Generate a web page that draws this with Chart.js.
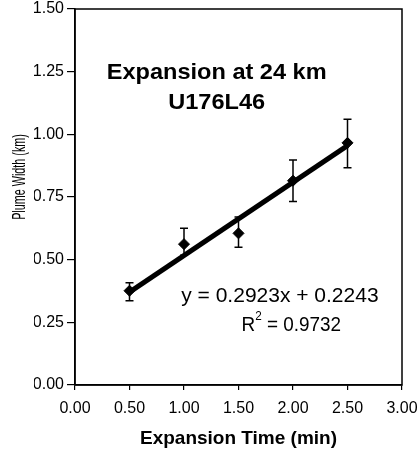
<!DOCTYPE html>
<html>
<head>
<meta charset="utf-8">
<script src="https://cdn.jsdelivr.net/npm/chart.js@4"></script>
<style>
  body { margin: 0; background: #fff; }
  #wrap { width: 418px; height: 450px; }
</style>
</head>
<body>
<div id="wrap"><canvas id="plumeChart"></canvas></div>
<script>
// Expansion time (min) and plume width (km)
const times = [0.5, 1.0, 1.5, 2.0, 2.5];
const widths = [0.376, 0.562, 0.605, 0.815, 0.966];
const errLow = [0.336, 0.518, 0.55, 0.732, 0.867];
const errHigh = [0.408, 0.625, 0.67, 0.898, 1.06];

// Linear fit printed on the chart
const slope = 0.2923;
const intercept = 0.2243;
const rSquared = 0.9732;

const yTicks = [0, 0.25, 0.5, 0.75, 1.0, 1.25, 1.5];

const SANS = '"Liberation Sans", Arial, Helvetica, sans-serif';

// text helper: centred, optionally stretched/squeezed horizontally
function putText(ctx, str, px, py, font, sx) {
    ctx.save();
    ctx.font = font;
    ctx.translate(px, py);
    ctx.scale(sx, 1);
    ctx.fillText(str, 0, 0);
    ctx.restore();
}

// "R² = value" with a small raised 2
function putRSquared(ctx, value, px, py, sx) {
    const big = '21px ' + SANS, small = '13px ' + SANS;
    const rest = ' = ' + value;
    ctx.save();
    ctx.font = big;
    const wR = ctx.measureText('R').width, wRest = ctx.measureText(rest).width;
    ctx.font = small;
    const w2 = ctx.measureText('2').width;
    ctx.translate(px, py);
    ctx.scale(sx, 1);
    ctx.textAlign = 'left';
    let cx = -(wR + w2 + wRest) / 2;
    ctx.font = big;
    ctx.fillText('R', cx, 0);
    cx += wR;
    ctx.font = small;
    ctx.fillText('2', cx, -9);
    cx += w2;
    ctx.font = big;
    ctx.fillText(rest, cx, 0);
    ctx.restore();
}

// Error bars, frame, titles and equation text
const extras = {
    id: 'extras',
    afterDatasetsDraw(chart) {
        const { ctx, chartArea, scales } = chart;
        const x = scales.x, y = scales.y;
        ctx.save();
        ctx.strokeStyle = '#000';
        ctx.lineWidth = 1.5;
        // error bars with caps
        times.forEach((t, i) => {
            const px = x.getPixelForValue(t);
            const top = y.getPixelForValue(errHigh[i]);
            const bot = y.getPixelForValue(errLow[i]);
            ctx.beginPath();
            ctx.moveTo(px, top); ctx.lineTo(px, bot);
            ctx.moveTo(px - 4, top); ctx.lineTo(px + 4, top);
            ctx.moveTo(px - 4, bot); ctx.lineTo(px + 4, bot);
            ctx.stroke();
        });
        // box around the plot
        ctx.strokeRect(chartArea.left, chartArea.top, chartArea.right - chartArea.left, chartArea.bottom - chartArea.top);

        ctx.fillStyle = '#000';
        ctx.textAlign = 'center';
        ctx.textBaseline = 'middle';
        // chart title inside the plot
        const bold = 'bold 22px ' + SANS;
        putText(ctx, 'Expansion at 24 km', x.getPixelForValue(1.3), y.getPixelForValue(1.245), bold, 1.07);
        putText(ctx, 'U176L46', x.getPixelForValue(1.3), y.getPixelForValue(1.125), bold, 1.07);
        // regression text
        putText(ctx, 'y = ' + slope.toFixed(4) + 'x + ' + intercept.toFixed(4),
            x.getPixelForValue(1.88), y.getPixelForValue(0.356), '21px ' + SANS, 1);
        putRSquared(ctx, rSquared.toFixed(4), x.getPixelForValue(1.985), y.getPixelForValue(0.237), 0.9);
        // y axis title, narrowed to look like the condensed original
        ctx.translate(20, y.getPixelForValue(0.83));
        ctx.rotate(-Math.PI / 2);
        putText(ctx, 'Plume Width (km)', 0, 0, '18px ' + SANS, 0.6);
        ctx.restore();
    }
};

const ctx = document.getElementById('plumeChart').getContext('2d');
const plumeChart = new Chart(ctx, {
    type: 'scatter',
    data: {
        datasets: [{
            // trend line from the printed fit
            type: 'line',
            data: [times[0], times[times.length - 1]].map(t => ({ x: t, y: slope * t + intercept })),
            borderColor: '#000',
            borderWidth: 5,
            pointRadius: 0,
            fill: false
        }, {
            data: times.map((t, i) => ({ x: t, y: widths[i] })),
            pointStyle: 'rectRot',
            pointRadius: 5.5,
            backgroundColor: '#000',
            borderColor: '#000'
        }]
    },
    options: {
        responsive: true,
        maintainAspectRatio: false,
        animation: false,
        layout: { padding: { left: 34, right: 16, top: 9, bottom: 0 } },
        plugins: {
            legend: { display: false },
            tooltip: { enabled: false }
        },
        scales: {
            x: {
                type: 'linear',
                min: 0,
                max: 3,
                afterFit: s => { s.height = 65; s.paddingLeft = 0; s.paddingRight = 0; },
                ticks: {
                    stepSize: 0.5,
                    padding: 9,
                    color: '#000',
                    font: { family: SANS, size: 16 },
                    callback: v => v.toFixed(2)
                },
                grid: { drawOnChartArea: false, tickLength: 5, color: '#000', lineWidth: 1.2 },
                border: { color: '#000', width: 1.5 },
                title: {
                    display: true,
                    text: 'Expansion Time (min)',
                    color: '#000',
                    font: { family: SANS, size: 19, weight: 'bold' },
                    padding: { top: 4, bottom: 0 }
                }
            },
            y: {
                min: 0,
                max: 1.5,
                afterBuildTicks: axis => { axis.ticks = yTicks.map(v => ({ value: v })); },
                afterFit: s => { s.width = 41; s.paddingTop = 0; s.paddingBottom = 0; },
                ticks: {
                    padding: 3,
                    color: '#000',
                    font: { family: SANS, size: 16 },
                    callback: v => v.toFixed(2)
                },
                grid: { drawOnChartArea: false, tickLength: 8, color: '#000', lineWidth: 1.2 },
                border: { color: '#000', width: 1.5 }
            }
        }
    },
    plugins: [extras]
});
</script>
</body>
</html>
